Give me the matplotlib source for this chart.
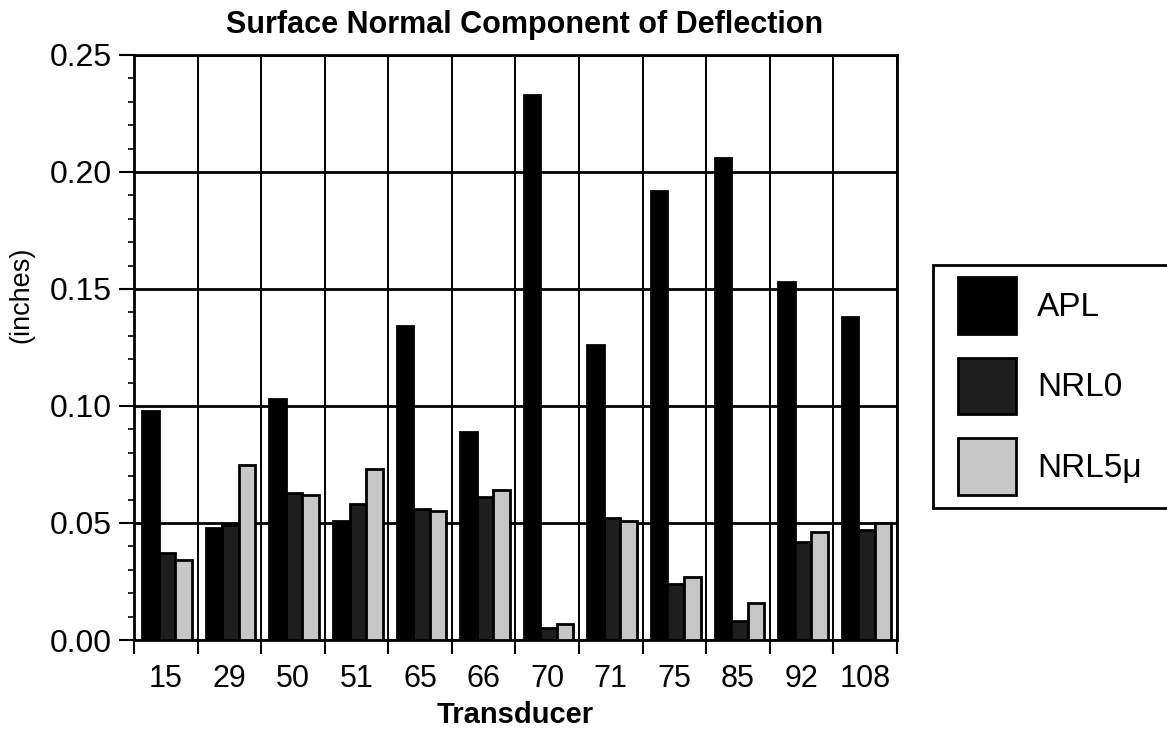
import matplotlib
matplotlib.use("Agg")
import matplotlib.pyplot as plt
import matplotlib.patches as mpatches
from matplotlib.ticker import MultipleLocator, FormatStrFormatter
import numpy as np

transducers = ["15", "29", "50", "51", "65", "66", "70", "71", "75", "85", "92", "108"]
apl = [0.098, 0.048, 0.103, 0.051, 0.134, 0.089, 0.233, 0.126, 0.192, 0.206, 0.153, 0.138]
nrl0 = [0.037, 0.049, 0.063, 0.058, 0.056, 0.061, 0.005, 0.052, 0.024, 0.008, 0.042, 0.047]
nrl5 = [0.034, 0.075, 0.062, 0.073, 0.055, 0.064, 0.007, 0.051, 0.027, 0.016, 0.046, 0.050]
series_names = ["APL", "NRL0", "NRL5\u03bc"]

plt.rcParams['font.family'] = ['Liberation Sans', 'DejaVu Sans']

fig = plt.figure(figsize=(11.67, 7.32), dpi=100)
ax = fig.add_axes([134/1167, 1-640/732, (897-134)/1167, (640-55)/732])

x = np.arange(len(transducers))
w = 0.26
colors = ["#000000", "#1e1e1e", "#c6c6c6"]
for i, (vals, c) in enumerate(zip([apl, nrl0, nrl5], colors)):
    ax.bar(x + (i - 1) * w + 0.02, vals, width=w, color=c, edgecolor="black",
           linewidth=2.0, zorder=3, label=series_names[i])

ax.set_xlim(-0.5, len(transducers) - 0.5)
ax.set_ylim(0, 0.25)
ax.yaxis.set_major_locator(MultipleLocator(0.05))
ax.yaxis.set_minor_locator(MultipleLocator(0.01))
ax.yaxis.set_major_formatter(FormatStrFormatter('%.2f'))
ax.set_xticks(x)
ax.set_xticklabels(transducers)
ax.set_xticks(np.arange(len(transducers) + 1) - 0.5, minor=True)

ax.tick_params(axis='y', which='major', direction='out', length=11, width=1.5, labelsize=23, pad=5)
ax.tick_params(axis='y', which='minor', direction='out', length=4.5, width=1.2)
ax.tick_params(axis='x', which='major', length=0, labelsize=22, pad=17)
ax.tick_params(axis='x', which='minor', direction='out', length=10, width=1.5)

ax.grid(True, axis='y', which='major', color='black', linewidth=2.0, zorder=0)
ax.grid(True, axis='x', which='minor', color='black', linewidth=1.4, zorder=0)
ax.set_axisbelow(True)
for s in ax.spines.values():
    s.set_linewidth(2.0)

ax.set_title("Surface Normal Component of Deflection", fontsize=22, fontweight='bold',
             pad=15.5, x=0.512)
ax.set_xlabel("Transducer", fontsize=21, fontweight='bold', labelpad=5)
ax.set_ylabel("(inches)", fontsize=19.5, va='center')
ax.yaxis.set_label_coords(-0.148, 0.59)

# legend frame
frame = mpatches.Rectangle((933/1167, 1-508/732), 0.3, (508-265)/732, transform=fig.transFigure,
                           facecolor='white', edgecolor='black', linewidth=2.0, clip_on=False)
fig.patches.append(frame)
leg = fig.legend(loc='upper left', bbox_to_anchor=(955/1167, 1-274/732), frameon=False,
                 fontsize=24, handlelength=1.74, handleheight=2.23, labelspacing=0.72,
                 handletextpad=0.63, borderaxespad=0, borderpad=0.1)

fig.savefig("out.png", dpi=100)
